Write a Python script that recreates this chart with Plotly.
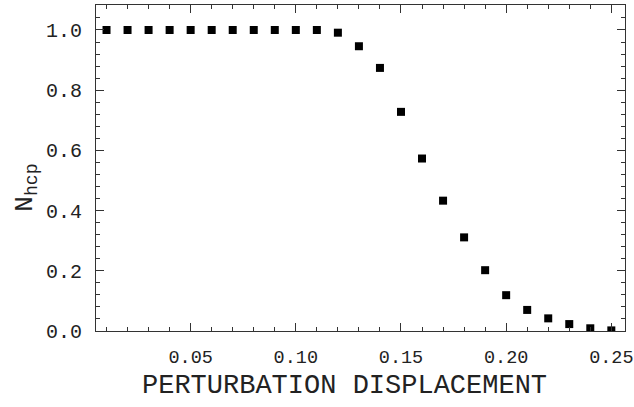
import plotly.graph_objects as go

x_vals = [0.01, 0.02, 0.03, 0.04, 0.05, 0.06, 0.07, 0.08, 0.09, 0.10,
          0.11, 0.12, 0.13, 0.14, 0.15, 0.16, 0.17, 0.18, 0.19, 0.20,
          0.21, 0.22, 0.23, 0.24, 0.25]
n_hcp = [1.0, 1.0, 1.0, 1.0, 1.0, 1.0, 1.0, 1.0, 1.0, 1.0,
         1.0, 0.991, 0.946, 0.874, 0.728, 0.573, 0.433, 0.311, 0.202, 0.119,
         0.070, 0.042, 0.023, 0.009, 0.002]

x_ticks = [0.05, 0.10, 0.15, 0.20, 0.25]
x_tick_labels = ["0.05", "0.10", "0.15", "0.20", "0.25"]
y_ticks = [0.0, 0.2, 0.4, 0.6, 0.8, 1.0]
y_tick_labels = ["0.0", "0.2", "0.4", "0.6", "0.8", "1.0"]

FONT = "Liberation Mono, Courier New, monospace"
AX = "#333333"

fig = go.Figure()
fig.add_trace(go.Scatter(
    x=x_vals, y=n_hcp, mode="markers",
    marker=dict(symbol="square", size=8, color="black", line=dict(width=0)),
    showlegend=False,
))

common = dict(showgrid=False, zeroline=False, showline=True, linecolor=AX, linewidth=1,
              mirror="ticks", ticks="inside", ticklen=8, tickwidth=1, tickcolor=AX,
              ticklabeloverflow="allow", automargin=False)

fig.update_xaxes(range=[0.005, 0.2565], tickvals=x_ticks, ticktext=x_tick_labels,
                 ticklabelstandoff=9,
                 tickfont=dict(family=FONT, size=18.5, color="#222222"),
                 minor=dict(dtick=0.01, tick0=0, ticks="inside", ticklen=4, tickcolor=AX, showgrid=False),
                 **common)
fig.update_yaxes(range=[0.0, 1.083], tickvals=y_ticks, ticktext=y_tick_labels,
                 ticklabelstandoff=9,
                 tickfont=dict(family=FONT, size=20, color="#222222"),
                 minor=dict(dtick=0.04, tick0=0, ticks="inside", ticklen=4, tickcolor=AX, showgrid=False),
                 **common)

fig.add_annotation(text="PERTURBATION DISPLACEMENT", xref="paper", yref="paper",
                   x=0.469, y=-0.169, xanchor="center", yanchor="middle", showarrow=False,
                   font=dict(family=FONT, size=27, color="#222222"))
fig.add_annotation(text="N<sub>hcp</sub>", xref="paper", yref="paper",
                   x=-0.134, y=0.44, xanchor="center", yanchor="middle", showarrow=False,
                   textangle=-90, font=dict(family=FONT, size=26, color="#222222"))

fig.update_layout(width=634, height=407, margin=dict(l=96, r=9, t=5, b=76),
                  plot_bgcolor="white", paper_bgcolor="white")

fig.write_html("out.html")
